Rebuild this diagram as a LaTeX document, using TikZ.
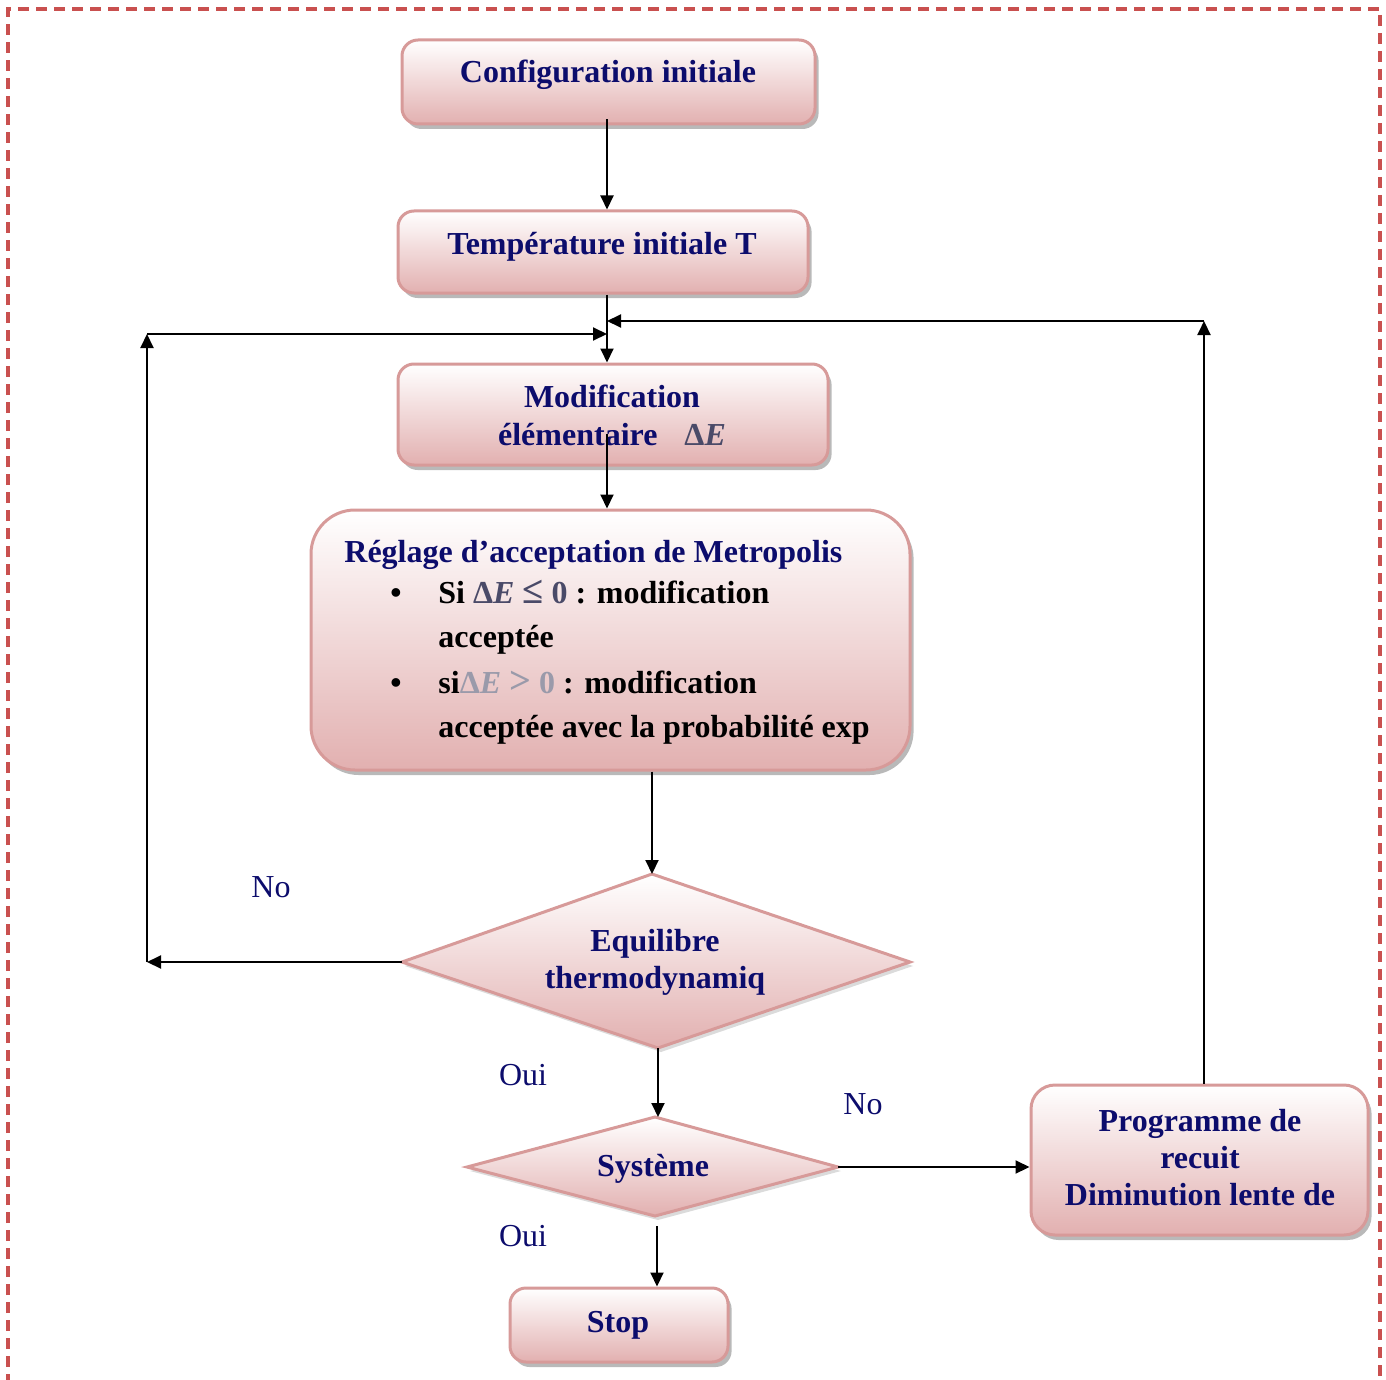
\documentclass[tikz,border=0pt]{standalone}
\usepackage{fontspec}
\setmainfont{Liberation Serif}
\usetikzlibrary{arrows.meta,shadows}
\definecolor{navy}{HTML}{0C0C6C}
\definecolor{boxline}{HTML}{D79A99}
\definecolor{boxpink}{HTML}{E2B0B0}
\definecolor{framered}{HTML}{C9504F}
\definecolor{symgray}{HTML}{4A4A68}
\definecolor{symlight}{HTML}{9A9AAA}
\tikzset{
  stepbox/.style={draw=boxline, line width=1.5pt, rounded corners=8pt,
    top color=white, bottom color=boxpink, inner sep=0pt,
    drop shadow={shadow xshift=1.8pt, shadow yshift=-2.5pt, fill=black!50, opacity=0.55}},
  choice/.style={draw=boxline, line width=1.5pt, top color=white, bottom color=boxpink,
    drop shadow={shadow xshift=1.5pt, shadow yshift=-2pt, fill=black!35, opacity=0.4}},
  boxtext/.style={font=\fontsize{16}{19}\selectfont\bfseries, text=navy, inner sep=0pt, anchor=base},
  bodytext/.style={font=\fontsize{16}{19}\selectfont\bfseries, text=black, inner sep=0pt, anchor=base west},
  answer/.style={font=\fontsize{16}{19}\selectfont, text=navy, inner sep=0pt, anchor=base},
  arr/.style={line width=1pt, -{Triangle[length=7pt,width=6.5pt]}},
}
\begin{document}
\begin{tikzpicture}[x=0.5pt,y=-0.5pt]
\useasboundingbox (0,0) rectangle (1386,1380);

% dashed frame
\draw[framered, line width=1.6pt, dash pattern=on 5.5pt off 3.5pt]
  (8,1385) -- (8,9) -- (1380,9) -- (1380,1385);

% spine of the main flow
\coordinate (spine) at (607,0);

% boxes
\node[stepbox, minimum width=206.5pt, minimum height=42pt] (cfg) at (608.5,82) {};
\node[stepbox, minimum width=205pt, minimum height=41pt] (temp) at (603,252) {};
\node[stepbox, minimum width=215pt, minimum height=50.5pt] (mod) at (613,414.5) {};
\node[stepbox, rounded corners=22pt, minimum width=299.5pt, minimum height=130pt] (metro) at (610.5,640) {};
\node[stepbox, rounded corners=12pt, minimum width=168.5pt, minimum height=75pt] (prog) at (1199.5,1160) {};
\node[stepbox, minimum width=109pt, minimum height=37pt] (stop) at (619,1325) {};

% decision diamonds
\path[choice] (652,874) coordinate (eqT) -- (910,962) coordinate (eqR)
  -- (658,1048) coordinate (eqB) -- (402,962) coordinate (eqL) -- cycle;
\path[choice] (655,1117) coordinate (sysT) -- (838,1167) coordinate (sysR)
  -- (655,1216) coordinate (sysB) -- (467,1167) coordinate (sysL) -- cycle;

% box texts
\node[boxtext] (tcfg) at (608,83) {Configuration initiale};
\node[boxtext] (ttemp) at (602,255) {Température initiale T};
\node[boxtext] (tmod1) at (612,407) {Modification};
\node[boxtext] (tmod2) at (612,445) {élémentaire\hspace{13.5pt}{\color{symgray}Δ\textit{E}}};
\node[boxtext, anchor=base west] (tmet) at (344,562) {Réglage d’acceptation de Metropolis};
\node[bodytext] (b1) at (390,603) {•};
\node[bodytext] (m1) at (438,603) {Si {\color{symgray}Δ\textit{E} \scalebox{1.2}{≤} 0} : modification};
\node[bodytext] (m2) at (438,647) {acceptée};
\node[bodytext] (b2) at (390,693) {•};
\node[bodytext] (m3) at (438,693) {si{\color{symlight}Δ\textit{E} \scalebox{1.2}{>} 0} : modification};
\node[bodytext] (m4) at (438,737) {acceptée avec la probabilité exp};
\node[boxtext] (teq1) at (655,951) {Equilibre};
\node[boxtext] (teq2) at (655,988) {thermodynamiq};
\node[boxtext] (tsys) at (653,1176) {Système};
\node[boxtext] (tprog1) at (1200,1131) {Programme de};
\node[boxtext] (tprog2) at (1200,1168) {recuit};
\node[boxtext] (tprog3) at (1200,1205) {Diminution lente de};
\node[boxtext] (tstop) at (618,1332) {Stop};

% answers
\node[answer] (no1) at (271,897) {No};
\node[answer] (oui1) at (523,1085) {Oui};
\node[answer] (no2) at (863,1114) {No};
\node[answer] (oui2) at (523,1246) {Oui};

% main flow
\coordinate (modout) at (607,434);
\coordinate (stopin) at (657,1226);
\draw[arr] ([yshift=3pt]cfg.south -| spine) -- (temp.north -| spine);
\draw[arr] (temp.south -| spine) -- (mod.north -| spine);
\draw[arr] (modout) -- (metro.north -| spine);
\draw[arr] (metro.south -| eqT) -- (eqT);
\draw[arr] (eqB) -- (eqB |- sysT);
\draw[arr] (sysR) -- (prog.west |- sysR);
\draw[arr] (stopin) -- (stop.north -| stopin);

% loop back after no equilibrium
\coordinate (lc1) at (147,962);
\coordinate (lc2) at (147,334);
\draw[arr] (eqL) -- (lc1);
\draw[arr] (lc1) -- (lc2);
\draw[arr] (lc2) -- (lc2 -| spine);

% loop back through the annealing schedule
\coordinate (rc) at (1204,321);
\draw[arr] (prog.north -| rc) -- (rc);
\draw[arr] (rc) -- (rc -| spine);
\end{tikzpicture}
\end{document}
